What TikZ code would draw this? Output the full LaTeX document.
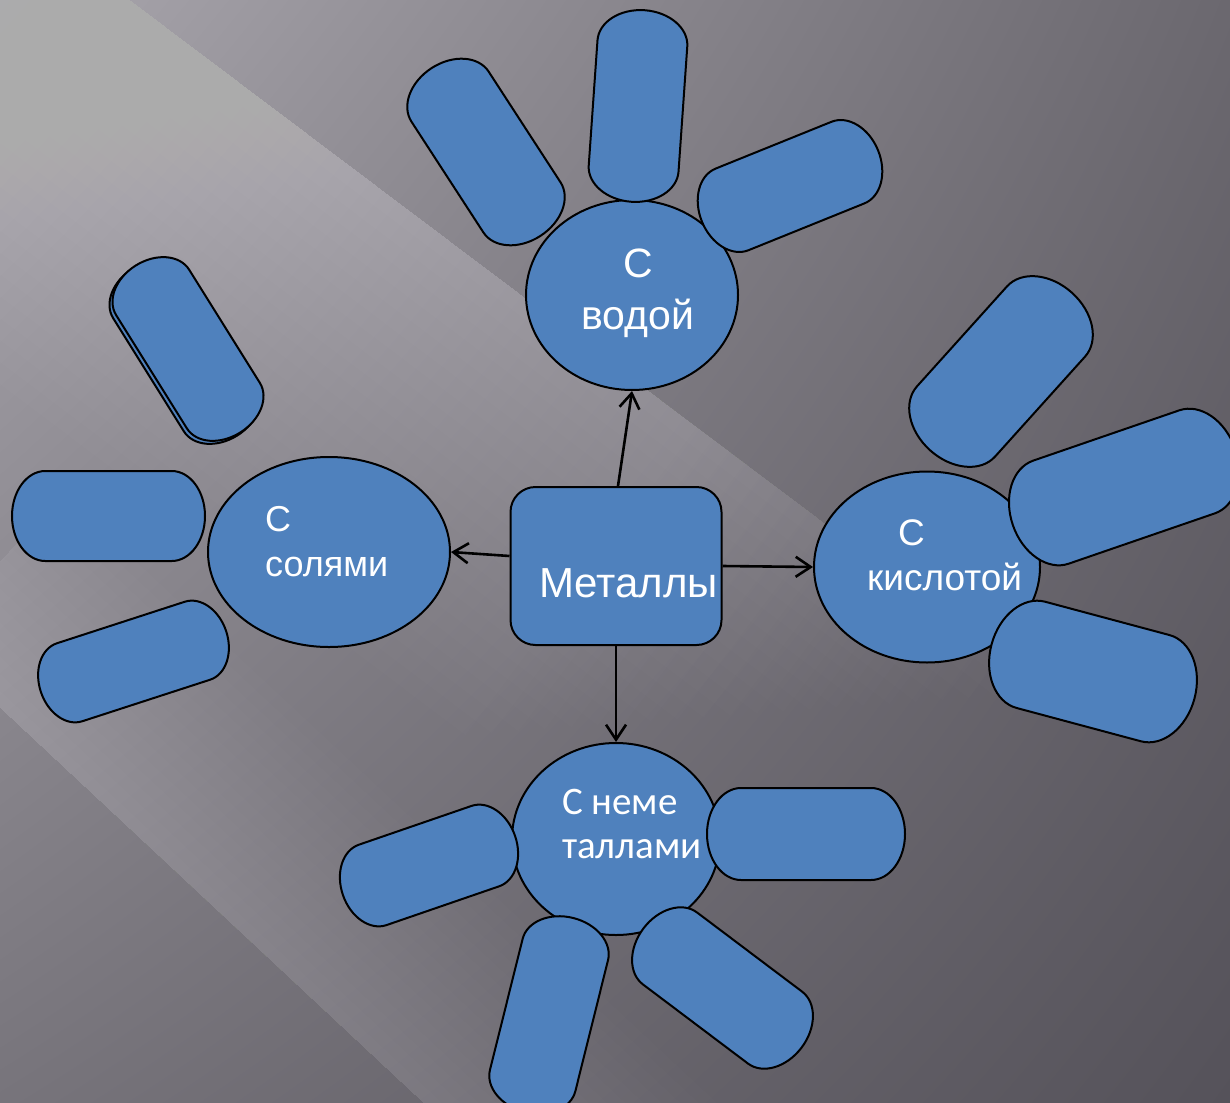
\documentclass[tikz,border=0pt]{standalone}
\usepackage{fontspec}
\setmainfont{Liberation Sans}
\newfontfamily\calibrifont{Carlito}
\usetikzlibrary{arrows.meta,shadings,shapes.geometric}

\definecolor{blob}{HTML}{4F81BD}
\definecolor{bgul}{HTML}{A9A6AD}
\definecolor{bgur}{HTML}{6B686F}
\definecolor{bgll}{HTML}{77747B}
\definecolor{bglr}{HTML}{55525A}

% capsule: x, y, angle, length, width
\newcommand{\capsule}[5]{%
  \begin{scope}[shift={(#1,#2)},rotate=#3]
    \pgfmathsetmacro{\cd}{0.37*#5}
    \pgfmathsetmacro{\ca}{#4/2-\cd}
    \pgfmathsetmacro{\ch}{#5/2}
    \draw[blobline] ({-\ca*1pt},{-\ch*1pt}) -- ({\ca*1pt},{-\ch*1pt})
      arc[start angle=-90,end angle=90,x radius=\cd pt,y radius=\ch pt]
      -- ({-\ca*1pt},{\ch*1pt})
      arc[start angle=90,end angle=270,x radius=\cd pt,y radius=\ch pt] -- cycle;
  \end{scope}}

\begin{document}
\begin{tikzpicture}[x=1pt,y=-1pt,
  blobline/.style={fill=blob,draw=black,line width=2pt},
  bubble/.style={ellipse,blobline,inner sep=0pt},
  lbl/.style={text=white,inner sep=0pt},
  glow/.style={white,opacity=0.013},
  arr/.style={line width=2.6pt,-{Straight Barb[length=15pt,width=20pt,line width=2.6pt]}}]

\useasboundingbox (0,0) rectangle (1230,1102);
\clip (0,0) rectangle (1230,1102);

% background
\shade[upper left=bgul,upper right=bgur,lower left=bgll,lower right=bglr] (0,0) rectangle (1230,1102);
\begin{scope}[shift={(130,0)},rotate=-37]
  \foreach \i in {1,...,22}
    \fill[glow] (-200,0) rectangle ({1150-20*\i},{17.5*\i});
\end{scope}
\begin{scope}[shift={(0,708)},rotate=-43]
  \foreach \i in {1,...,16}
    \fill[glow] (-100,0) rectangle (1200,{-12.5*\i});
\end{scope}

% main nodes
\node [bubble,minimum width=212pt,minimum height=190pt] (voda) at(632,295){};
\node [bubble,minimum width=242pt,minimum height=190pt] (soli) at(329,552){};
\node [bubble,minimum width=226pt,minimum height=191pt] (kislota) at(927,567){};
\node [bubble,minimum width=208pt,minimum height=192pt] (nemet) at(616,839){};
\node [blobline,rectangle,rounded corners=25pt,minimum width=211pt,minimum height=158pt] (metal) at(616,566){};

\draw[arr] ([xshift=2pt]metal.north) -- (voda.south);
\draw[arr] ([yshift=10pt]metal.west) -- (soli.east);
\draw[arr] (metal.east) -- (kislota.west);
\draw[arr] (metal.south) -- (nemet.north);

% capsules round voda
\capsule{486}{152}{-57}{200}{92}
\capsule{638}{106}{86}{192}{90}
\capsule{790}{186}{22}{190}{88}

% capsules round soli
\capsule{185}{352}{-58}{197}{86}
\capsule{188}{349}{-58}{197}{86}
\capsule{108.5}{516}{0}{193}{90}
\capsule{133.5}{661.5}{18}{195}{82}

% capsules round kislota
\capsule{1001}{371.5}{48}{212}{105}
\capsule{1124}{487}{19}{235}{109}
\capsule{1093}{671.5}{-15}{210}{110}

% capsules round nemet
\capsule{429}{865.5}{19}{182}{85}
\capsule{806}{834}{0}{198}{92}
\capsule{549}{1015}{76}{200}{88}
\capsule{722.5}{988}{-37}{198}{90}

% labels
\node [lbl,anchor=north,align=center,font=\fontsize{41}{52}\selectfont] (vodat) at(638,249){С\\водой};
\node [lbl,anchor=north west,align=left,font=\fontsize{36}{45}\selectfont] (solit) at(265,506){С\\солями};
\node [lbl,anchor=north west,align=left,font=\fontsize{37}{45}\selectfont] (kislotat) at(867,519){\hspace*{31pt}С\\кислотой};
\node [lbl,anchor=north west,align=left,font=\calibrifont\fontsize{39}{44}\selectfont] (nemett) at(562,789){С неме\\таллами};
\node [lbl,anchor=base west,font=\fontsize{42}{50}\selectfont] (metalt) at(539,597){Металлы};
\end{tikzpicture}
\end{document}
